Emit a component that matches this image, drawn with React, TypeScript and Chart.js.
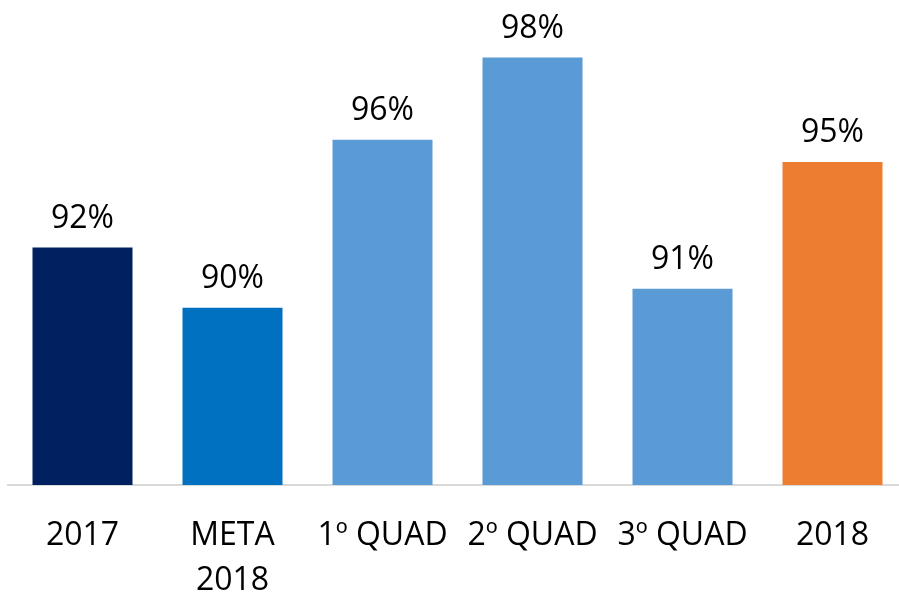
import React, { useEffect, useRef } from "react";
import { Chart, registerables } from "chart.js";

Chart.register(...registerables);

const categories: (string | string[])[] = ["2017", ["META", "2018"], "1º QUAD", "2º QUAD", "3º QUAD", "2018"];
const values = [92.0, 90.1, 95.4, 98.0, 90.7, 94.7];
const valueLabels = ["92%", "90%", "96%", "98%", "91%", "95%"];
const barColors = ["#002060", "#0070C0", "#5B9BD5", "#5B9BD5", "#5B9BD5", "#ED7D31"];

const FONT = "'Open Sans', Lato, sans-serif";

const valueLabelPlugin = {
  id: "valueLabels",
  afterDatasetsDraw(chart: any) {
    const ctx = chart.ctx;
    const meta = chart.getDatasetMeta(0);
    ctx.save();
    ctx.fillStyle = "#000000";
    ctx.font = `32px ${FONT}`;
    ctx.textAlign = "center";
    ctx.textBaseline = "alphabetic";
    meta.data.forEach((bar: any, i: number) => {
      ctx.fillText(valueLabels[i], bar.x, bar.y - 20);
    });
    ctx.restore();
  },
};

export default function App() {
  const ref = useRef<HTMLCanvasElement>(null);
  useEffect(() => {
    if (!ref.current) return;
    const chart = new Chart(ref.current, {
      type: "bar",
      data: {
        labels: categories,
        datasets: [
          {
            data: values,
            backgroundColor: barColors,
            borderWidth: 0,
            barPercentage: 2 / 3,
            categoryPercentage: 1,
          },
        ],
      },
      options: {
        animation: false,
        responsive: false,
        maintainAspectRatio: false,
        layout: { padding: { left: 7.5, right: 8.5, top: 10, bottom: 0 } },
        plugins: { legend: { display: false }, tooltip: { enabled: false } },
        scales: {
          y: {
            display: false,
            min: 84.5,
            max: 99.5,
          },
          x: {
            grid: { display: false },
            border: { display: true, color: "#d9d9d9", width: 2 },
            ticks: {
              color: "#000000",
              padding: 20,
              maxRotation: 0,
              autoSkip: false,
              font: { family: FONT, size: 32, lineHeight: 1.42 },
            },
            afterFit: (scale: any) => {
              scale.height = 108;
            },
          },
        },
      },
      plugins: [valueLabelPlugin],
    });
    return () => chart.destroy();
  }, []);
  return (
    <div style={{ position: "fixed", left: 0, top: 0, width: 899, height: 593, overflow: "hidden", background: "#ffffff" }}>
      <canvas ref={ref} width={916} height={593} style={{ display: "block", width: 916, height: 593 }} />
    </div>
  );
}
